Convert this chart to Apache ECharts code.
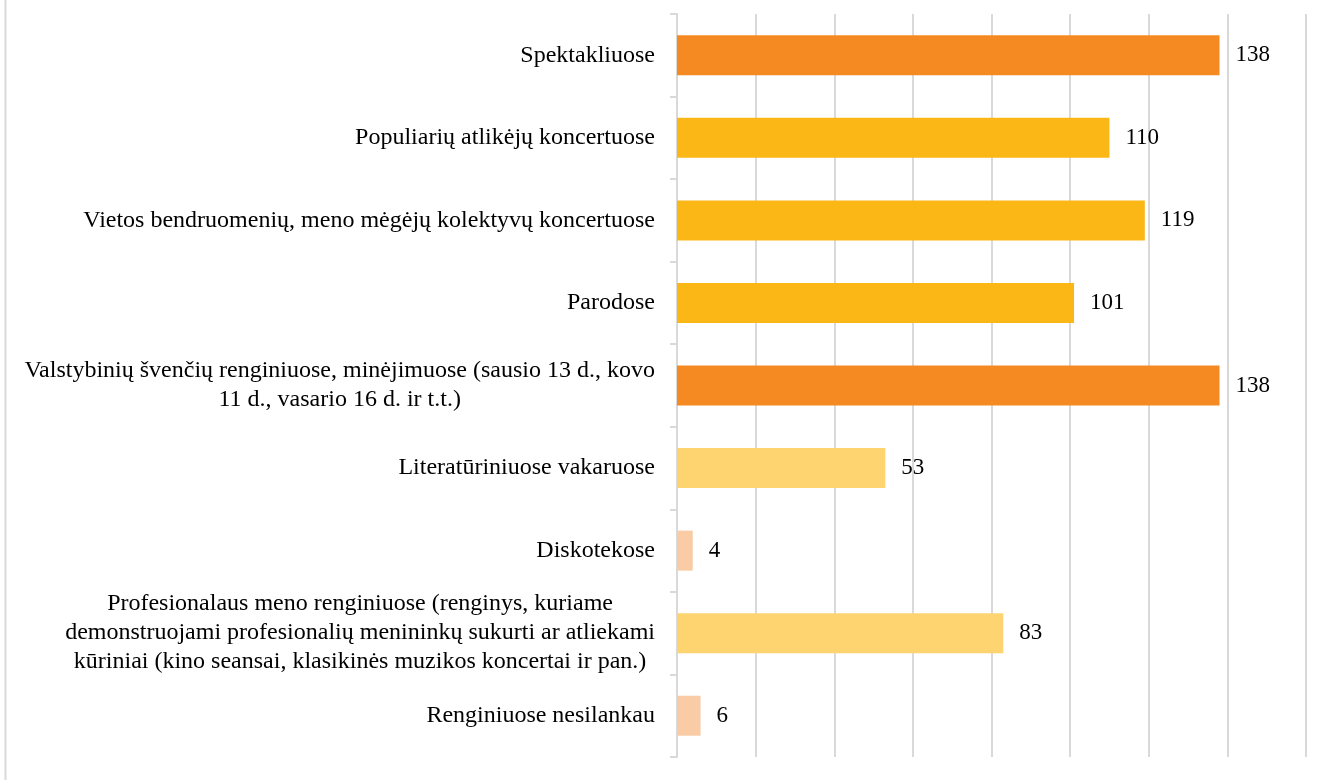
<!DOCTYPE html>
<html>
<head>
<meta charset="utf-8">
<script src="https://cdn.jsdelivr.net/npm/echarts@6/dist/echarts.min.js"></script>
<style>
  html, body { margin: 0; padding: 0; background: #fff; }
</style>
</head>
<body>
<div id="main" style="width: 1328px;height:780px;"></div>
<script>
// kategorijos (iš viršaus į apačią)
var categories = [
  'Spektakliuose',
  'Populiarių atlikėjų koncertuose',
  'Vietos bendruomenių, meno mėgėjų kolektyvų koncertuose',
  'Parodose',
  'Valstybinių švenčių renginiuose, minėjimuose (sausio 13 d., kovo\n11 d., vasario 16 d. ir t.t.)',
  'Literatūriniuose vakaruose',
  'Diskotekose',
  'Profesionalaus meno renginiuose (renginys, kuriame\ndemonstruojami profesionalių menininkų sukurti ar atliekami\nkūriniai (kino seansai, klasikinės muzikos koncertai ir pan.)',
  'Renginiuose nesilankau'
];
var values = [138, 110, 119, 101, 138, 53, 4, 83, 6];
var barColors = ['#F58A22', '#FBB716', '#FBB716', '#FBB716', '#F58A22', '#FDD470', '#F9CCA6', '#FDD470', '#F9CCA6'];

var font = '"Liberation Serif", "Times New Roman", serif';

var myChart = echarts.init(document.getElementById('main'));
var option = {
  animation: false,
  graphic: [
    {
      type: 'line',
      shape: { x1: 5.5, y1: 0, x2: 5.5, y2: 780 },
      style: { stroke: '#d9d9d9', lineWidth: 2 }
    }
  ],
  grid: { left: 677, right: 22, top: 14, bottom: 23 },
  xAxis: {
    type: 'value',
    min: 0,
    max: 160,
    interval: 20,
    axisLabel: { show: false },
    axisLine: { show: false },
    axisTick: { show: false },
    splitLine: { lineStyle: { color: '#d9d9d9', width: 2 } }
  },
  yAxis: {
    type: 'category',
    inverse: true,
    data: categories,
    axisLine: { show: true, lineStyle: { color: '#d9d9d9', width: 2 } },
    axisTick: { show: true, length: 7, lineStyle: { color: '#d9d9d9', width: 2 } },
    axisLabel: {
      margin: 22,
      color: '#000',
      formatter: function (v) {
        return v.split('\n').map(function (l) { return '{c|' + l + '}'; }).join('\n');
      },
      rich: {
        c: { align: 'center', fontFamily: font, fontSize: 24, lineHeight: 29, color: '#000' }
      }
    }
  },
  series: [
    {
      type: 'bar',
      data: values,
      barWidth: 40,
      itemStyle: {
        color: function (p) { return barColors[p.dataIndex]; }
      },
      label: {
        show: true,
        position: 'right',
        distance: 16,
        color: '#000',
        fontFamily: font,
        fontSize: 23
      }
    }
  ]
};
myChart.setOption(option);
</script>
</body>
</html>
